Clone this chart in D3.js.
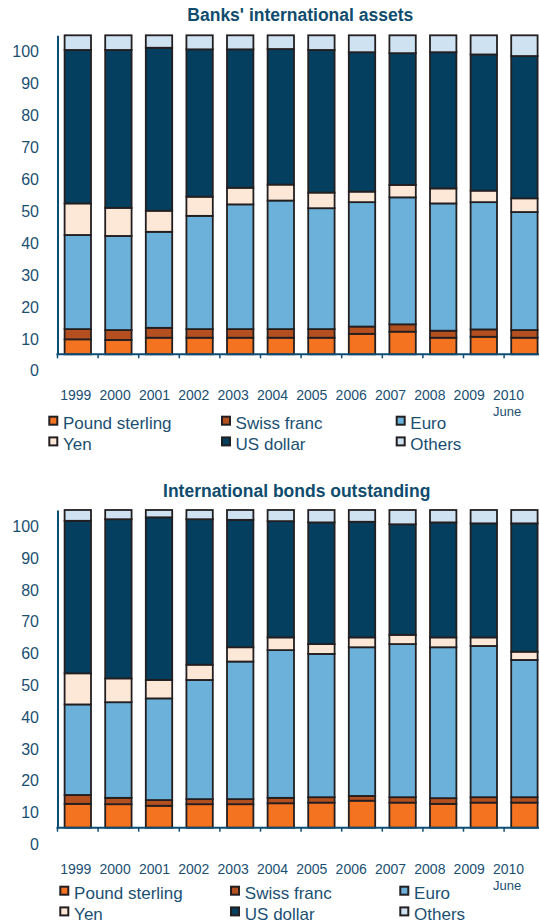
<!DOCTYPE html>
<html>
<head>
<meta charset="utf-8">
<script src="https://cdn.jsdelivr.net/npm/d3@7"></script>
<style>
  body { margin: 0; background: #fff; }
  svg { display: block; font-family: "Liberation Sans", Arial, sans-serif; }
</style>
</head>
<body>
<div id="chart"></div>
<script>
// categories
var years = ["1999", "2000", "2001", "2002", "2003", "2004", "2005", "2006", "2007", "2008", "2009", "2010"];
var currencies = ["Pound sterling", "Swiss franc", "Euro", "Yen", "US dollar", "Others"];
var colours = ["#f47321", "#b4501f", "#6bb1da", "#fde8d8", "#053f5f", "#cfe2f1"];

// banks' international assets, % share
var assetsSterling = [4.7, 4.5, 5.2, 5.2, 5.2, 5.2, 5.2, 6.4, 7.1, 5.2, 5.5, 5.2];
var assetsSwiss    = [3.2, 3.1, 3.1, 2.7, 2.7, 2.7, 2.7, 2.3, 2.3, 2.2, 2.3, 2.4];
var assetsEuro     = [29.5, 29.5, 30.1, 35.5, 39.1, 40.3, 37.9, 39.0, 39.8, 39.9, 39.9, 37.0];
var assetsYen      = [9.9, 8.8, 6.6, 6.0, 5.2, 5.0, 4.9, 3.3, 3.9, 4.7, 3.6, 4.3];
var assetsDollar   = [48.1, 49.5, 51.1, 46.2, 43.4, 42.5, 44.7, 43.7, 41.3, 42.7, 42.7, 44.6];
var assetsOthers   = [4.6, 4.6, 3.9, 4.4, 4.4, 4.3, 4.6, 5.3, 5.6, 5.3, 6.0, 6.5];

// international bonds outstanding, % share
var bondsSterling = [7.5, 7.4, 6.9, 7.4, 7.4, 7.7, 7.9, 8.5, 7.9, 7.5, 7.9, 7.9];
var bondsSwiss    = [2.8, 2.0, 1.8, 1.6, 1.6, 1.7, 1.7, 1.5, 1.7, 1.8, 1.7, 1.7];
var bondsEuro     = [28.5, 30.1, 32.0, 37.5, 43.3, 46.5, 45.1, 46.8, 48.2, 47.5, 47.6, 43.2];
var bondsYen      = [9.8, 7.5, 5.8, 4.8, 4.5, 4.0, 3.1, 3.1, 2.9, 3.1, 2.7, 2.6];
var bondsDollar   = [48.0, 50.1, 51.2, 45.8, 40.1, 36.6, 38.3, 36.4, 34.8, 36.2, 35.9, 40.4];
var bondsOthers   = [3.4, 2.9, 2.3, 2.9, 3.1, 3.5, 3.9, 3.7, 4.5, 3.9, 4.2, 4.2];

var yTicks = [0, 10, 20, 30, 40, 50, 60, 70, 80, 90, 100];

var width = 539,
    height = 923;
var textColour = "#1b4f72",
    axisColour = "#0e4d73";

var svg = d3.select("#chart")
    .append("svg")
    .attr("width", width)
    .attr("height", height);

function drawPanel(cfg) {
    var rows = years.map(function(yr, i) {
        var r = { year: yr };
        currencies.forEach(function(c, k) { r[c] = cfg.values[k][i]; });
        return r;
    });
    var series = d3.stack().keys(currencies)(rows);

    var x = d3.scaleBand()
        .domain(years)
        .range([57.5, 57.5 + 12 * 40.6])
        .paddingInner(0.35)
        .paddingOuter(0.175);
    var y = d3.scaleLinear().domain([0, 100]).range([cfg.base, cfg.top]);
    var labelX = d3.scalePoint().domain(years).range([75.8, 75.8 + 11 * 39.34]);

    var g = svg.append("g");

    //title
    g.append("text")
        .attr("x", cfg.titleX)
        .attr("y", cfg.titleY)
        .attr("text-anchor", "middle")
        .attr("font-size", 17.5)
        .attr("font-weight", "bold")
        .attr("fill", "#0f4c6e")
        .text(cfg.title);

    //stacked bars
    g.selectAll(".layer")
        .data(series)
        .enter().append("g")
        .attr("class", "layer")
        .attr("fill", function(d, i) { return colours[i]; })
        .selectAll("rect")
        .data(function(d) { return d; })
        .enter().append("rect")
        .attr("x", function(d) { return x(d.data.year); })
        .attr("y", function(d) { return y(d[1]); })
        .attr("width", x.bandwidth())
        .attr("height", function(d) { return y(d[0]) - y(d[1]); })
        .attr("stroke", "#231f20")
        .attr("stroke-width", 1.8);

    //y axis, labels sit half a step below their gridline like the original
    var yAxis = g.append("g")
        .attr("transform", "translate(57.5,0)")
        .call(d3.axisLeft(y).tickValues(yTicks).tickSize(0).tickPadding(18.5));
    yAxis.select(".domain").attr("stroke", axisColour).attr("stroke-width", 2);
    yAxis.selectAll("text")
        .attr("transform", "translate(0,16.5)")
        .attr("font-size", 16)
        .attr("font-family", "Liberation Sans, Arial, sans-serif")
        .attr("fill", textColour);

    //x baseline and ticks between bars
    g.append("line")
        .attr("x1", 56.5).attr("x2", width)
        .attr("y1", cfg.base).attr("y2", cfg.base)
        .attr("stroke", axisColour).attr("stroke-width", 2);
    g.selectAll(".xtick")
        .data(years)
        .enter().append("line")
        .attr("class", "xtick")
        .attr("x1", function(d) { return x(d) - x.step() * 0.175; })
        .attr("x2", function(d) { return x(d) - x.step() * 0.175; })
        .attr("y1", cfg.base).attr("y2", cfg.base + 4)
        .attr("stroke", axisColour).attr("stroke-width", 1.5);

    g.selectAll(".year")
        .data(years)
        .enter().append("text")
        .attr("class", "year")
        .attr("x", function(d) { return labelX(d); })
        .attr("y", cfg.yearY)
        .attr("text-anchor", "middle")
        .attr("font-size", 14)
        .attr("fill", textColour)
        .text(function(d) { return d; });
    g.append("text")
        .attr("x", labelX("2010") - 15.5)
        .attr("y", cfg.yearY + 15.5)
        .attr("font-size", 13)
        .attr("fill", textColour)
        .text("June");

    //legend, 3 columns x 2 rows
    var legend = g.selectAll(".legend")
        .data(currencies)
        .enter().append("g")
        .attr("class", "legend")
        .attr("transform", function(d, i) {
            return "translate(" + cfg.legendX[i % 3] + "," + cfg.legendY[Math.floor(i / 3)] + ")";
        });
    legend.append("rect")
        .attr("x", 1).attr("y", -12.6)
        .attr("width", 8).attr("height", 8)
        .attr("fill", function(d, i) { return colours[i]; })
        .attr("stroke", "#231f20")
        .attr("stroke-width", 2);
    legend.append("text")
        .attr("x", cfg.legendGap)
        .attr("y", 0)
        .attr("font-size", 17)
        .attr("fill", textColour)
        .text(function(d) { return d; });
}

drawPanel({
    title: "Banks' international assets",
    values: [assetsSterling, assetsSwiss, assetsEuro, assetsYen, assetsDollar, assetsOthers],
    top: 35.3, base: 354.3,
    titleX: 300.3, titleY: 20.7,
    yearY: 400,
    legendX: [48.3, 221, 395.7], legendGap: 14.6,
    legendY: [429.3, 450]
});

drawPanel({
    title: "International bonds outstanding",
    values: [bondsSterling, bondsSwiss, bondsEuro, bondsYen, bondsDollar, bondsOthers],
    top: 510, base: 827.7,
    titleX: 296.7, titleY: 497.3,
    yearY: 874,
    legendX: [59.3, 230, 399.3], legendGap: 14.8,
    legendY: [899.3, 920]
});
</script>
</body>
</html>
